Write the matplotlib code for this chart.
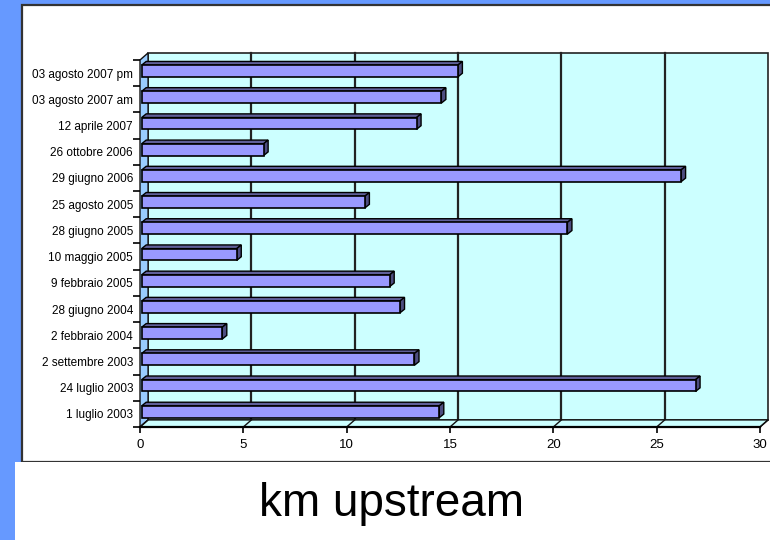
import matplotlib
matplotlib.use("Agg")
import matplotlib.pyplot as plt
from matplotlib.patches import Rectangle, Polygon

plt.rcParams['font.family'] = ['Liberation Sans', 'DejaVu Sans']

# dates, bottom to top
dates = ["1 luglio 2003", "24 luglio 2003", "2 settembre 2003", "2 febbraio 2004",
         "28 giugno 2004", "9 febbraio 2005", "10 maggio 2005", "28 giugno 2005",
         "25 agosto 2005", "29 giugno 2006", "26 ottobre 2006", "12 aprile 2007",
         "03 agosto 2007 am", "03 agosto 2007 pm"]
km_upstream = [14.4, 26.8, 13.2, 3.9, 12.5, 12.0, 4.6, 20.6,
               10.8, 26.1, 5.9, 13.3, 14.5, 15.3]
xticks = [0, 5, 10, 15, 20, 25, 30]

W, H = 770, 540
SLIDE_BLUE = "#6699FF"
WALL = "#CCFFFF"
SIDE_WALL = "#99CCFF"
BAR = "#9999FF"
BAR_TOP = "#5F5F99"
BAR_SIDE = "#4D4D80"

# 3d look: depth of the walls and of the bars, in data units
DX, DY = 0.39, 0.27
BX, BY = 0.22, 0.14
BAR_H = 0.45
BAR_SHIFT = 0.08


def fx(px):
    return px / W


def fy(py):
    return 1 - py / H


fig = plt.figure(figsize=(W / 100, H / 100), dpi=100)
fig.patch.set_facecolor(SLIDE_BLUE)

# white chart box and the white strip under it
fig.add_artist(Rectangle((fx(22), fy(462)), fx(800) - fx(22), fy(4.5) - fy(462),
                         transform=fig.transFigure, facecolor="white",
                         edgecolor="#333333", lw=1.6, zorder=0))
fig.add_artist(Rectangle((fx(15), 0), 1, fy(462), transform=fig.transFigure,
                         facecolor="white", edgecolor="none", zorder=0))

ax = fig.add_axes([fx(140), fy(427), fx(760) - fx(140), fy(60) - fy(427)])
ax.patch.set_visible(False)
for s in ax.spines.values():
    s.set_visible(False)
ax.set_xlim(0, 30)
ax.set_ylim(-0.5, 13.5)

n = len(dates)
lo, hi = -0.5, n - 0.5
xmax = xticks[-1]

# back wall, side wall and floor
ax.add_patch(Rectangle((DX, lo + DY), xmax, hi - lo, facecolor=WALL,
                       edgecolor="#222222", lw=1.2, clip_on=False, zorder=0))
for t in xticks[1:-1]:
    ax.plot([t + DX, t + DX], [lo + DY, hi + DY], color="#222222", lw=1.6,
            clip_on=False, zorder=1)
ax.add_patch(Polygon([(0, lo), (DX, lo + DY), (DX, hi + DY), (0, hi)],
                     facecolor=SIDE_WALL, edgecolor="#111111", lw=1.0,
                     clip_on=False, zorder=1))
ax.add_patch(Polygon([(0, lo), (xmax, lo), (xmax + DX, lo + DY), (DX, lo + DY)],
                     facecolor=WALL, edgecolor="#111111", lw=1.0,
                     clip_on=False, zorder=1))
for t in xticks:
    ax.plot([t, t + DX], [lo, lo + DY], color="#111111", lw=1.0,
            clip_on=False, zorder=1)
ax.plot([0, xmax], [lo, lo], color="black", lw=1.6, clip_on=False, zorder=2)

# bars: front face plus top and end faces
ys = [i + BAR_SHIFT for i in range(n)]
ax.barh(ys, km_upstream, height=BAR_H, left=BAR_SHIFT, color=BAR,
        edgecolor="black", lw=1.2, zorder=4)
for y, v in zip(ys, km_upstream):
    x0, x1 = BAR_SHIFT, BAR_SHIFT + v
    yt, yb = y + BAR_H / 2, y - BAR_H / 2
    ax.add_patch(Polygon([(x0, yt), (x0 + BX, yt + BY), (x1 + BX, yt + BY), (x1, yt)],
                         facecolor=BAR_TOP, edgecolor="black", lw=1.0, zorder=3))
    ax.add_patch(Polygon([(x1, yb), (x1 + BX, yb + BY), (x1 + BX, yt + BY), (x1, yt)],
                         facecolor=BAR_SIDE, edgecolor="black", lw=1.0, zorder=3))

# axes ticks
ax.set_xticks(xticks)
ax.set_xticklabels([str(t) for t in xticks])
ax.tick_params(axis="x", direction="out", length=4, width=1.2, pad=5,
               labelsize=9.5, color="black")
ax.set_yticks([i + 0.5 for i in range(-1, n)])
ax.set_yticklabels([])
ax.set_yticks(range(n), minor=True)
ax.set_yticklabels(dates, minor=True)
ax.tick_params(axis="y", which="major", direction="out", length=5, width=1.2)
ax.tick_params(axis="y", which="minor", length=0, pad=5, labelsize=8.5)

fig.text(fx(391.5), fy(516), "km upstream", ha="center", va="baseline",
         fontsize=33, color="black")

fig.savefig("out.png", dpi=100, facecolor=fig.get_facecolor())
